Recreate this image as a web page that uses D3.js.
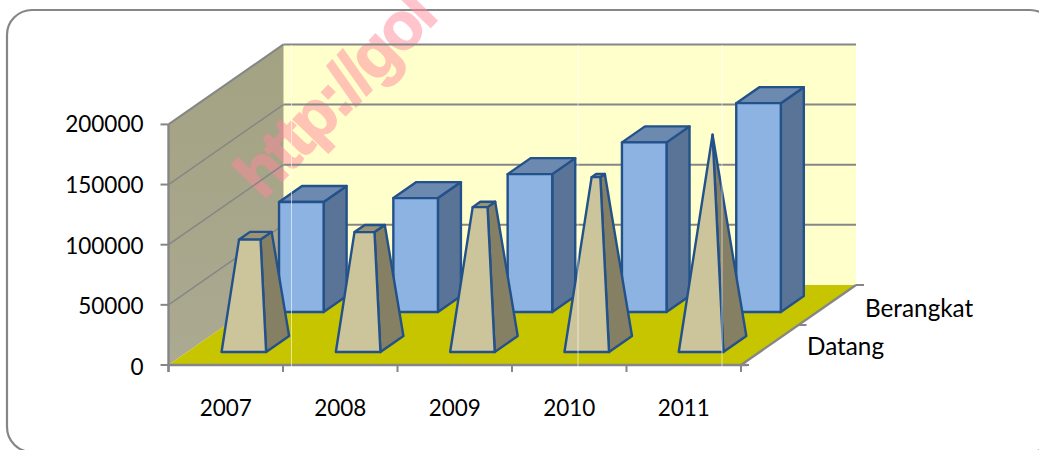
<!DOCTYPE html>
<html><head><meta charset="utf-8">
<style>html,body{margin:0;padding:0;background:#fff;overflow:hidden}svg{display:block}text{font-family:Lato,"Open Sans",sans-serif;fill:#000}</style>
<script src="https://cdn.jsdelivr.net/npm/d3@7/dist/d3.min.js"></script>
</head><body><svg id="c" width="1039" height="450"></svg>
<script>
const years = ["2007","2008","2009","2010","2011"];
const seriesNames = ["Datang","Berangkat"];
const datang = [90000,96000,116000,140000,174000];
const berangkat = [91400,94700,114600,141000,173600];
const yTicks = [0,50000,100000,150000,200000];
const watermark = "http://gol";

const svg = d3.select("#c");
const x = d3.scaleBand().domain(years).range([168.5,741]);
const xBars = d3.scaleBand().domain(years).range([168,739.5]);
const y = d3.scaleLinear().domain([0,200000]).range([0,240.6]);
const yLabel = d3.scaleLinear().domain([0,200000]).range([375,132]);
const z = d3.scaleBand().domain(seriesNames).range([0.0125,1.0125]);
const baseY = 365, dx = 115, dy = 80;
const barW = 0.39, barD = 0.2;
// 3D projection: a = screen x at front, v = value, d = depth 0..1
const P = (a,v,d) => [a + d*dx, baseY - y(v) - d*dy];
const line = d3.line();
const poly = (pts,fill,stroke,sw) => svg.append("path").attr("d",line(pts)+"Z")
  .attr("fill",fill).attr("stroke",stroke||"none").attr("stroke-width",sw||0).attr("stroke-linejoin","round");
const seg = (a,b,c,w) => svg.append("path").attr("d",line([a,b])).attr("stroke",c).attr("stroke-width",w).attr("fill","none");

const x0 = x.range()[0], x1 = x.range()[1], vMax = y.domain()[1];
const grid = "#868686";

// frame
svg.append("rect").attr("x",7).attr("y",10).attr("width",1048).attr("height",442).attr("rx",25)
  .attr("fill","#fff").attr("stroke",grid).attr("stroke-width",2.2);

// walls
poly([P(x0,0,1),P(x1,0,1),P(x1,vMax,1),P(x0,vMax,1)],"#FFFFCC");
const defs = svg.append("defs");
const g = defs.append("linearGradient").attr("id","wall").attr("x1",0).attr("x2",0).attr("y1",0).attr("y2",1);
g.append("stop").attr("offset",0).attr("stop-color","#A3A282");
g.append("stop").attr("offset",1).attr("stop-color","#ABAA92");
poly([P(x0,0,0),P(x0,0,1),P(x0,vMax,1),P(x0,vMax,0)],"url(#wall)");

// watermark
svg.append("text").text(watermark)
  .attr("transform","translate(263,201) rotate(-46)")
  .attr("font-size",66).attr("font-weight",700).attr("letter-spacing",-3)
  .attr("opacity",0.5)
  .style("font-family",'"Liberation Sans",sans-serif')
  .style("fill","#FF8A9B").style("stroke","#FF8A9B").style("stroke-width",1.6);

// gridlines
yTicks.forEach(t => {
  if (t>0) { seg(P(x0,t,0),P(x0,t,1),grid,t===vMax?2:1.5); seg(P(x0,t,1),P(x1,t,1),grid,2); }
});

// floor
poly([P(x0,0,0),P(x1,0,0),P(x1,0,1),P(x0,0,1)],"#C6C500");

// axes
seg([x0,baseY-240.6],[x0,baseY+7],grid,2.4);
seg([x0,baseY],[x1+6,baseY],grid,2.4);
seg(P(x1,0,0),P(x1,0,1),grid,2.4);
yTicks.forEach(t => seg([x0-8,baseY-y(t)],[x0,baseY-y(t)],grid,2));
years.concat(["end"]).forEach((c,i) => { const a = x0 + i*x.step(); seg([a,baseY],[a,baseY+7],grid,2); });
[0,0.5,1].forEach(d => { const p = P(x1,0,d); seg(p,[p[0]+8,p[1]],grid,2); });

// tick labels
const fs = 22.5, fsName = 24.3;
yTicks.forEach(t => svg.append("text").text(t).attr("x",143.5).attr("y",yLabel(t)).attr("text-anchor","end").attr("font-size",fs));
years.forEach(c => svg.append("text").text(c).attr("x",x(c)+x.bandwidth()/2).attr("y",416).attr("text-anchor","middle").attr("font-size",fs));
svg.append("text").text("Berangkat").attr("x",865).attr("y",317).attr("font-size",fsName);
svg.append("text").text("Datang").attr("x",807).attr("y",355).attr("font-size",fsName);

const edge = "#23518A", sw = 2.4;
// Berangkat boxes
years.forEach((c,i) => {
  const w = xBars.bandwidth()*barW, a0 = xBars(c)+xBars.bandwidth()/2-w/2, a1 = a0+w;
  const d0 = z("Berangkat")+z.bandwidth()/2-barD/2, d1 = d0+barD, v = berangkat[i];
  poly([P(a1,0,d0),P(a1,0,d1),P(a1,v,d1),P(a1,v,d0)],"#5A7497",edge,sw);
  poly([P(a0,v,d0),P(a1,v,d0),P(a1,v,d1),P(a0,v,d1)],"#6C89B0",edge,sw);
  poly([P(a0,0,d0),P(a1,0,d0),P(a1,v,d0),P(a0,v,d0)],"#8DB3E3",edge,sw);
});

// Datang truncated pyramids, tapering toward the series maximum
const dMax = d3.max(datang);
years.forEach((c,i) => {
  const w = xBars.bandwidth()*barW, ac = xBars(c)+xBars.bandwidth()/2;
  const dc = z("Datang")+z.bandwidth()/2, v = datang[i], k = 1-v/dMax;
  const a0 = ac-w/2, a1 = ac+w/2, d0 = dc-barD/2, d1 = dc+barD/2;
  const ta0 = ac-w/2*k, ta1 = ac+w/2*k, td0 = dc-barD/2*k, td1 = dc+barD/2*k;
  poly([P(a1,0,d0),P(a1,0,d1),P(ta1,v,td1),P(ta1,v,td0)],"#857F64",edge,sw);
  if (k>0) poly([P(ta0,v,td0),P(ta1,v,td0),P(ta1,v,td1),P(ta0,v,td1)],"#9A9474",edge,sw);
  poly([P(a0,0,d0),P(a1,0,d0),P(ta1,v,td0),P(ta0,v,td0)],"#CCC59C",edge,sw);
});

// faint vertical seams in the picture
[291.5,578,722].forEach(a => svg.append("line").attr("x1",a).attr("x2",a).attr("y1",45).attr("y2",367).attr("stroke","#fff").attr("stroke-opacity",0.6).attr("stroke-width",1));
</script></body></html>
